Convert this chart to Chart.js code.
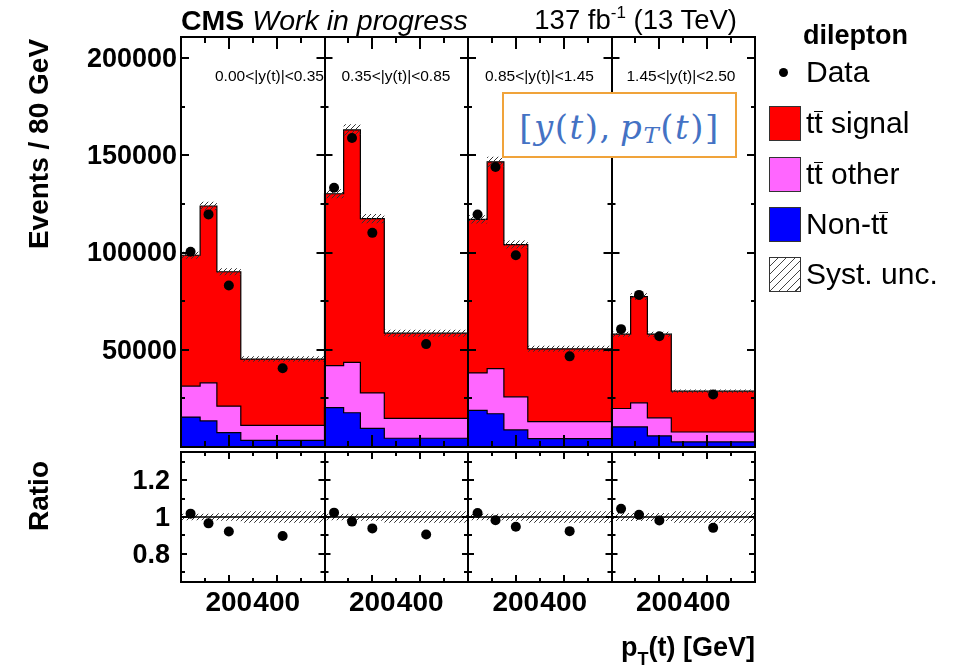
<!DOCTYPE html>
<html>
<head>
<meta charset="utf-8">
<title>Top quark pT in |y(t)| slices</title>
<script src="https://cdn.jsdelivr.net/npm/chart.js@4.4.1/dist/chart.umd.min.js"></script>
<style>
  html, body { margin: 0; padding: 0; background: #fff; }
  #page { position: relative; width: 963px; height: 671px; overflow: hidden;
          font-family: "Liberation Sans", Arial, Helvetica, sans-serif; color: #000; }
  #mainChart, #ratioChart { position: absolute; left: 0; }
  #mainChart { top: 0; }
  #ratioChart { top: 447px; }
  .abs { position: absolute; white-space: nowrap; line-height: 1; }
  .vtitle { font-weight: bold; font-size: 28px; transform: translate(-50%, -50%) rotate(-90deg); }
  .tb { display: inline-block; line-height: 0.76em; border-top: 1.5px solid #000; }
  #header { left: 181px; top: 6px; font-size: 28.5px; }
  #lumi { right: 226px; top: 6px; font-size: 27.5px; }
  #lumi sup { font-size: 17px; position: relative; top: -11px; vertical-align: baseline; }
  #formula { position: absolute; left: 502px; top: 92px; width: 235px; height: 66px; box-sizing: border-box;
             border: 2px solid #f0a33a; background: #fff; display: flex; align-items: center; justify-content: center;
             font-family: "DejaVu Serif", "Liberation Serif", serif; font-size: 34px; letter-spacing: 1.5px;
             color: #4472c4; white-space: nowrap; padding-top: 4px; }
  #formula sub { font-size: 23px; position: relative; top: 8px; vertical-align: baseline; }
  #xtitle { right: 208px; top: 634px; font-size: 27px; font-weight: bold; }
  #xtitle sub { font-size: 18px; position: relative; top: 9px; vertical-align: baseline; }
  .lg-box { position: absolute; left: 769px; width: 32px; height: 35px; box-sizing: border-box; border: 1px solid #333; }
  .lg-txt { position: absolute; left: 806px; font-size: 30px; line-height: 1; white-space: nowrap; }
</style>
</head>
<body>
<div id="page">
  <canvas id="mainChart" width="963" height="452"></canvas>
  <canvas id="ratioChart" width="963" height="224"></canvas>

  <div class="abs" id="header"><b>CMS</b> <i>Work in progress</i></div>
  <div class="abs" id="lumi">137 fb<sup>-1</sup> (13 TeV)</div>
  <div class="abs vtitle" style="left:39px; top:144px;">Events / 80 GeV</div>
  <div class="abs vtitle" style="left:39px; top:496px;">Ratio</div>
  <div class="abs" id="xtitle">p<sub>T</sub>(t) [GeV]</div>
  <div id="formula">[<i>y</i>(<i>t</i>),&thinsp;<i>p</i><sub><i>T</i></sub>(<i>t</i>)]</div>
  <div id="legend"></div>
</div>

<script>
// |y(t)| slices, each one split into the same pT(t) bins
const sliceLabels = ['0.00<|y(t)|<0.35', '0.35<|y(t)|<0.85', '0.85<|y(t)|<1.45', '1.45<|y(t)|<2.50'];
const ptEdges = [0, 80, 150, 250, 600];

// events / 80 GeV, bins listed slice by slice
const nonTT      = [15400, 13400,  7400,  3400,   20200,  17600,  9600,  4500,   18800,  17100,  8800,  4300,   10300, 10300,  5700,  2600];
const ttOther    = [15900, 19600, 13600,  7700,   21600,  25900, 18200, 10200,   19300,  23200, 17000,  8700,    9500, 12400,  9300,  5100];
const ttSignal   = [67300, 90900, 69100, 34100,   88400, 119500, 89600, 43800,   78900, 106300, 78300, 37500,   38200, 54600, 43000, 21000];
const dataCounts = [100400, 119600, 83000, 40500, 133300, 158900, 110100, 52900, 119500, 144000, 98600, 46600,  60600, 78200, 56900, 27000];
// relative systematic uncertainty of the total prediction
const systRel    = [0.018, 0.018, 0.020, 0.031,   0.018, 0.018, 0.020, 0.031,   0.018, 0.018, 0.020, 0.031,   0.022, 0.022, 0.022, 0.031];

const mainTickLabels = [50000, 100000, 150000, 200000];
const ratioTickLabels = [0.8, 1, 1.2];
const ptTickLabels = [200, 400];

const COLORS = { signal: '#ff0000', other: '#ff66ff', nonTT: '#0000ff' };
const FONT = '"Liberation Sans", Arial, Helvetica, sans-serif';

const nBins = ptEdges.length - 1;
const sliceWidth = ptEdges[nBins];
const xMax = sliceWidth * sliceLabels.length;

// stacked tops
const pinkTop = nonTT.map((v, i) => v + ttOther[i]);
const totalTop = pinkTop.map((v, i) => v + ttSignal[i]);
const ratio = dataCounts.map((v, i) => v / totalTop[i]);

function binLow(i) { return Math.floor(i / nBins) * sliceWidth + ptEdges[i % nBins]; }
function binCenter(i) {
  const k = i % nBins;
  return Math.floor(i / nBins) * sliceWidth + (ptEdges[k] + ptEdges[k + 1]) / 2;
}
function steps(vals) {
  const pts = vals.map((v, i) => ({ x: binLow(i), y: v }));
  pts.push({ x: xMax, y: vals[vals.length - 1] });
  return pts;
}
function markers(vals) { return vals.map((v, i) => ({ x: binCenter(i), y: v })); }

function hatch(gap, color) {
  const c = document.createElement('canvas');
  c.width = gap; c.height = gap;
  const g = c.getContext('2d');
  g.strokeStyle = color; g.lineWidth = 1;
  g.beginPath();
  g.moveTo(0, gap); g.lineTo(gap, 0);
  g.moveTo(-1, 1); g.lineTo(1, -1);
  g.moveTo(gap - 1, gap + 1); g.lineTo(gap + 1, gap - 1);
  g.stroke();
  return g.createPattern(c, 'repeat');
}

// inward ticks, pad frames, y labels and slice labels, ROOT style
const frame = {
  id: 'frame',
  afterDatasetsDraw(chart, args, o) {
    const { ctx, chartArea: a, scales: { x, y } } = chart;
    ctx.save();
    ctx.fillStyle = '#000';
    if (o.labels) {
      ctx.font = '15.5px ' + FONT;
      ctx.textBaseline = 'middle';
      ctx.textAlign = 'left';
      sliceLabels.forEach((t, k) => {
        const l = x.getPixelForValue(k * sliceWidth), r = x.getPixelForValue((k + 1) * sliceWidth);
        ctx.save();
        ctx.beginPath(); ctx.rect(l, a.top, r - l, a.bottom - a.top); ctx.clip();
        ctx.fillText(t, l + o.labelShift[k], a.top + 39.5);
        ctx.restore();
      });
    }
    ctx.font = 'bold 27px ' + FONT;
    ctx.textAlign = 'right';
    ctx.textBaseline = 'middle';
    o.yMajorAt.forEach(v => ctx.fillText(String(v), a.left - o.yPad, y.getPixelForValue(v) + 1.5));

    ctx.strokeStyle = '#000';
    ctx.lineWidth = 2;
    ctx.beginPath();
    for (let v = o.xStep; v < xMax; v += o.xStep) {
      const inSlice = v % sliceWidth;
      if (inSlice === 0) continue;
      const len = ptTickLabels.includes(inSlice) ? o.xMajor : o.xMinor;
      const px = Math.round(x.getPixelForValue(v));
      ctx.moveTo(px, a.bottom); ctx.lineTo(px, a.bottom - len);
      ctx.moveTo(px, a.top); ctx.lineTo(px, a.top + len);
    }
    const first = Math.floor(y.min / o.yStep + 1e-6) + 1;
    for (let n = first; n * o.yStep < y.max - 1e-6; n++) {
      const v = n * o.yStep;
      const major = o.yMajorAt.some(m => Math.abs(m - v) < o.yStep / 100);
      const len = major ? o.yMajor : o.yMinor;
      const py = Math.round(y.getPixelForValue(v));
      for (let k = 0; k <= sliceLabels.length; k++) {
        const px = x.getPixelForValue(k * sliceWidth);
        if (k > 0) { ctx.moveTo(px, py); ctx.lineTo(px - len, py); }
        if (k < sliceLabels.length) { ctx.moveTo(px, py); ctx.lineTo(px + len, py); }
      }
    }
    ctx.stroke();
    ctx.beginPath();
    for (let k = 1; k < sliceLabels.length; k++) {
      const px = Math.round(x.getPixelForValue(k * sliceWidth));
      ctx.moveTo(px, a.top); ctx.lineTo(px, a.bottom);
    }
    ctx.rect(a.left, a.top, a.right - a.left, a.bottom - a.top);
    ctx.stroke();
    ctx.restore();
  }
};

const clear = 'rgba(0,0,0,0)';
const hiddenY = { grid: { display: false, drawTicks: false }, border: { display: false }, ticks: { display: false },
                  afterFit: s => { s.width = 181; } };

function stackSet(label, vals, color, order) {
  return { label, data: steps(vals), stepped: true, fill: 'origin', backgroundColor: color,
           borderColor: '#000', borderWidth: 1.2, pointRadius: 0, order };
}

new Chart(document.getElementById('mainChart'), {
  type: 'line',
  data: {
    datasets: [
      stackSet('tt signal', totalTop, COLORS.signal, 5),
      stackSet('tt other', pinkTop, COLORS.other, 4),
      stackSet('Non-tt', nonTT, COLORS.nonTT, 3),
      { label: 'unc up', data: steps(totalTop.map((v, i) => v * (1 + systRel[i]))), stepped: true,
        fill: false, borderColor: clear, borderWidth: 0, pointRadius: 0, order: 2 },
      { label: 'Syst. unc.', data: steps(totalTop.map((v, i) => v * (1 - systRel[i]))), stepped: true,
        fill: '-1', backgroundColor: hatch(5, '#333'), borderColor: clear, borderWidth: 0, pointRadius: 0, order: 2 },
      { label: 'Data', data: markers(dataCounts), showLine: false, pointRadius: 5,
        pointBackgroundColor: '#000', pointBorderWidth: 0, order: 0 }
    ]
  },
  options: {
    responsive: false, animation: false, devicePixelRatio: 1,
    layout: { padding: { left: 0, right: 208, top: 37, bottom: 3 } },
    plugins: {
      legend: { display: false }, tooltip: { enabled: false },
      frame: { labels: true, labelShift: [34, 17, 17, 15], xStep: 100, xMajor: 12, xMinor: 6,
               yStep: 25000, yMajorAt: mainTickLabels, yMajor: 8, yMinor: 4, yPad: 4 }
    },
    scales: {
      x: { type: 'linear', min: 0, max: xMax,
           grid: { display: false, drawTicks: false }, border: { display: false },
           ticks: { display: false }, afterFit: s => { s.height = 0; } },
      y: { min: 0, max: 210800, ...hiddenY }
    }
  },
  plugins: [frame]
});

new Chart(document.getElementById('ratioChart'), {
  type: 'line',
  data: {
    datasets: [
      { label: 'unc up', data: steps(systRel.map(u => 1 + u)), stepped: true,
        fill: false, borderColor: clear, borderWidth: 0, pointRadius: 0, order: 3 },
      { label: 'Syst. unc.', data: steps(systRel.map(u => 1 - u)), stepped: true,
        fill: '-1', backgroundColor: hatch(5, '#333'), borderColor: clear, borderWidth: 0, pointRadius: 0, order: 3 },
      { label: 'one', data: [{ x: 0, y: 1 }, { x: xMax, y: 1 }], borderColor: '#000', borderWidth: 1.5,
        pointRadius: 0, fill: false, order: 2 },
      { label: 'Data / pred.', data: markers(ratio), showLine: false, pointRadius: 5,
        pointBackgroundColor: '#000', pointBorderWidth: 0, order: 0 }
    ]
  },
  options: {
    responsive: false, animation: false, devicePixelRatio: 1,
    layout: { padding: { left: 0, right: 208, top: 2, bottom: 0 } },
    plugins: {
      legend: { display: false }, tooltip: { enabled: false },
      frame: { labels: false, xStep: 100, xMajor: 7, xMinor: 4,
               yStep: 0.1, yMajorAt: ratioTickLabels, yMajor: 6, yMinor: 4, yPad: 11 }
    },
    scales: {
      x: { type: 'linear', min: 0, max: xMax,
           grid: { display: false, drawTicks: false }, border: { display: false },
           ticks: { stepSize: 100, autoSkip: false, maxRotation: 0, padding: 4, color: '#000',
                    font: { family: FONT, size: 28, weight: 'bold' },
                    callback: v => ptTickLabels.includes(v % sliceWidth) ? String(v % sliceWidth) : '' },
           afterFit: s => { s.height = 89; } },
      y: { min: 0.645, max: 1.355, ...hiddenY }
    }
  },
  plugins: [frame]
});

// legend
const legendItems = [
  { name: 't<span class="tb">t</span> signal', fill: COLORS.signal, y: 123 },
  { name: 't<span class="tb">t</span> other', fill: COLORS.other, y: 174 },
  { name: 'Non-t<span class="tb">t</span>', fill: COLORS.nonTT, y: 224 },
  { name: 'Syst. unc.', fill: 'repeating-linear-gradient(135deg, #fff 0 5px, #444 5px 6px)', y: 274 }
];
let html = '<div class="abs" style="left:803px; top:22px; font-size:27px; font-weight:bold;">dilepton</div>';
html += '<div style="position:absolute; left:779px; top:68px; width:9px; height:9px; border-radius:50%; background:#000;"></div>';
html += '<div class="lg-txt" style="top:57px;">Data</div>';
for (const it of legendItems) {
  html += `<div class="lg-box" style="top:${it.y - 17}px; background:${it.fill};"></div>`;
  html += `<div class="lg-txt" style="top:${it.y - 15}px;">${it.name}</div>`;
}
document.getElementById('legend').innerHTML = html;
</script>
</body>
</html>
